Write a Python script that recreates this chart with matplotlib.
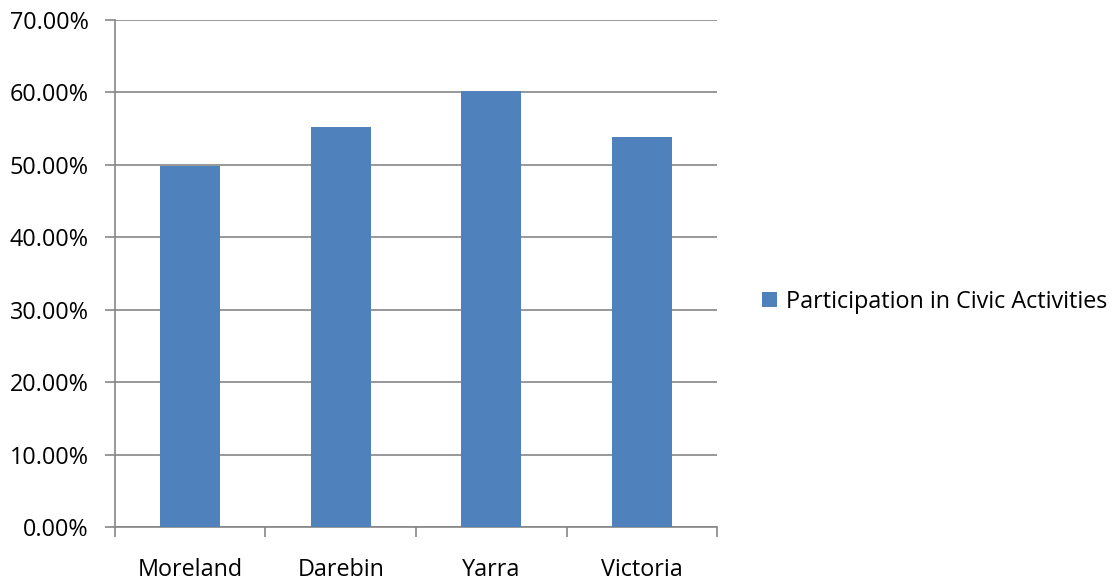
import numpy as np
import matplotlib.pyplot as plt
from matplotlib.ticker import FuncFormatter, FixedLocator

# data
categories = ["Moreland", "Darebin", "Yarra", "Victoria"]
values = [49.8, 55.2, 60.2, 53.8]
series_name = "Participation in Civic Activities"

plt.rcParams['font.family'] = ['Open Sans', 'DejaVu Sans']

fig = plt.figure(figsize=(11.12, 5.8), dpi=100)
ax = fig.add_axes([0.1034, 0.0914, 0.5414, 0.8741])

x = np.arange(len(categories))
bars = ax.bar(x, values, width=0.4, color="#4F81BD", label=series_name, zorder=3)

ax.set_xlim(-0.5, len(categories) - 0.5)
ax.set_ylim(0, 70)
ax.set_yticks(np.arange(0, 71, 10))
ax.yaxis.set_major_formatter(FuncFormatter(lambda v, p: f"{v:.2f}%"))
ax.grid(axis="y", color="#868686", linewidth=1.2, zorder=0)

# category labels centred, tick marks at boundaries
ax.set_xticks(x)
ax.set_xticklabels(categories)
ax.tick_params(axis="x", length=0, pad=22.5, labelsize=16.8)
ax.xaxis.set_minor_locator(FixedLocator(np.arange(-0.5, len(categories), 1)))
ax.tick_params(axis="x", which="minor", length=7, color="#868686", width=1.2)
ax.tick_params(axis="y", length=7, color="#868686", width=1.2, labelsize=16.8, pad=12)

for s in ["top", "right"]:
    ax.spines[s].set_visible(False)
for s in ["left", "bottom"]:
    ax.spines[s].set_color("#868686")
    ax.spines[s].set_linewidth(1.2)

ax.legend(loc="center left", bbox_to_anchor=(1.075, 0.444), frameon=False,
          fontsize=16.8, handlelength=0.65, handleheight=0.65, handletextpad=0.35,
          borderpad=0, borderaxespad=0)

fig.savefig("out.png", dpi=100)
